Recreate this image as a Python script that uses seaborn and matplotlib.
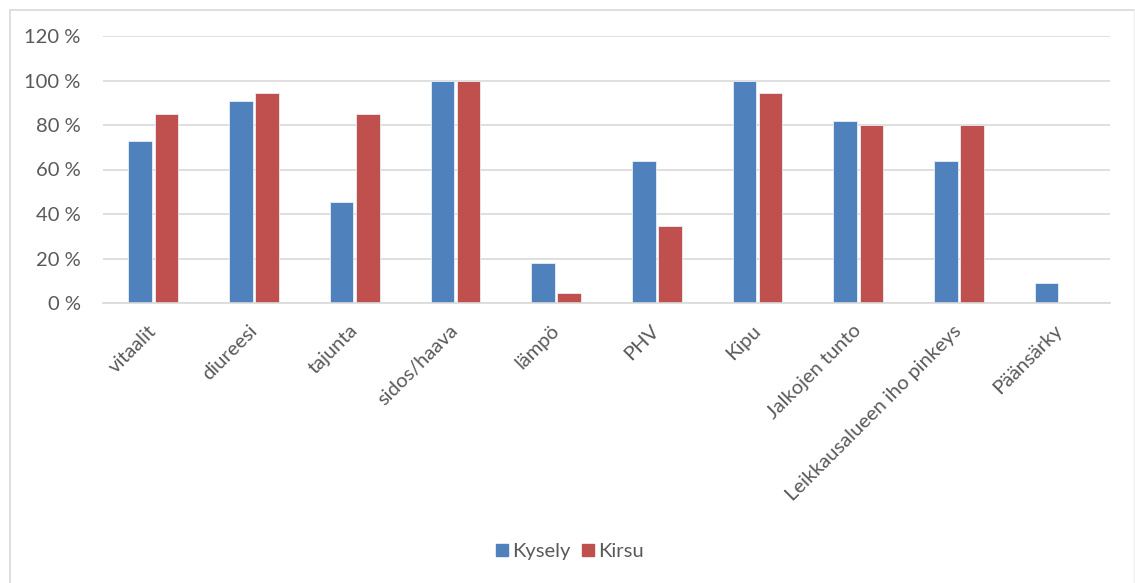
import pandas as pd
import seaborn as sns
import matplotlib.pyplot as plt
import matplotlib.transforms as mtransforms
from matplotlib.lines import Line2D
from matplotlib.ticker import FuncFormatter

# values, in percent
categories = ['vitaalit', 'diureesi', 'tajunta', 'sidos/haava', 'lämpö', 'PHV',
              'Kipu', 'Jalkojen tunto', 'Leikkausalueen iho pinkeys', 'Päänsärky']
kysely = [72.7, 90.9, 45.5, 100, 18.2, 63.6, 100, 81.8, 63.6, 9.1]
kirsu = [85, 94.5, 85, 100, 4.5, 34.5, 94.5, 80, 80, 0]
series = ['Kysely', 'Kirsu']
colors = ['#4F81BD', '#C0504D']

df = pd.DataFrame({
    'kategoria': categories * 2,
    'sarja': [series[0]] * len(categories) + [series[1]] * len(categories),
    'arvo': kysely + kirsu,
})

sns.set_style('white')
plt.rcParams['font.family'] = ['Lato', 'DejaVu Sans']
txt = '#595959'
fs = 14.5

W, H = 1135, 583
fig = plt.figure(figsize=(W / 100, H / 100), dpi=100)
ax = fig.add_axes([103 / W, 1 - 303 / H, (1110 - 103) / W, (303 - 36) / H])

sns.barplot(data=df, x='kategoria', y='arvo', hue='sarja', palette=colors,
            saturation=1, width=0.52, gap=0.1, ax=ax, legend=False,
            edgecolor='#e8eef6', linewidth=0.6)

ax.set_ylim(0, 120)
ax.set_yticks(range(0, 121, 20))
ax.yaxis.set_major_formatter(FuncFormatter(lambda v, p: f'{int(v)} %'))
ax.set_xlim(-0.5, len(categories) - 0.5)
ax.grid(axis='y', color='#d9d9d9', linewidth=1.2)
ax.set_axisbelow(True)
for s in ['top', 'right', 'left']:
    ax.spines[s].set_visible(False)
ax.spines['bottom'].set_color('#d9d9d9')
ax.spines['bottom'].set_linewidth(1.2)
ax.set_xlabel('')
ax.set_ylabel('')
ax.tick_params(axis='y', length=0, pad=16, labelsize=fs, labelcolor=txt)
ax.tick_params(axis='x', length=0, pad=0, labelsize=fs, labelcolor=txt)

offset = mtransforms.ScaledTranslation(-0.06, -0.19, fig.dpi_scale_trans)
for lab in ax.get_xticklabels():
    lab.set_rotation(45)
    lab.set_ha('right')
    lab.set_va('top')
    lab.set_rotation_mode('anchor')
    lab.set_transform(lab.get_transform() + offset)

handles = [Line2D([], [], marker='s', linestyle='', markersize=9,
                  markerfacecolor=c, markeredgecolor=c) for c in colors]
fig.legend(handles, series, loc='center', bbox_to_anchor=(570 / W, 1 - 551 / H),
           ncol=2, frameon=False, fontsize=fs, labelcolor=txt,
           handlelength=0.6, handletextpad=0.2, columnspacing=0.6)

# chart frame
fig.add_artist(Line2D([10 / W, 10 / W], [0, 1 - 10 / H], transform=fig.transFigure,
                      color='#d9d9d9', linewidth=1.2))
fig.add_artist(Line2D([10 / W, 1134 / W], [1 - 10 / H, 1 - 10 / H], transform=fig.transFigure,
                      color='#d9d9d9', linewidth=1.2))
fig.add_artist(Line2D([1134 / W, 1134 / W], [0, 1 - 10 / H], transform=fig.transFigure,
                      color='#eeeeee', linewidth=1))

fig.savefig('out.png', dpi=100, facecolor='white')
